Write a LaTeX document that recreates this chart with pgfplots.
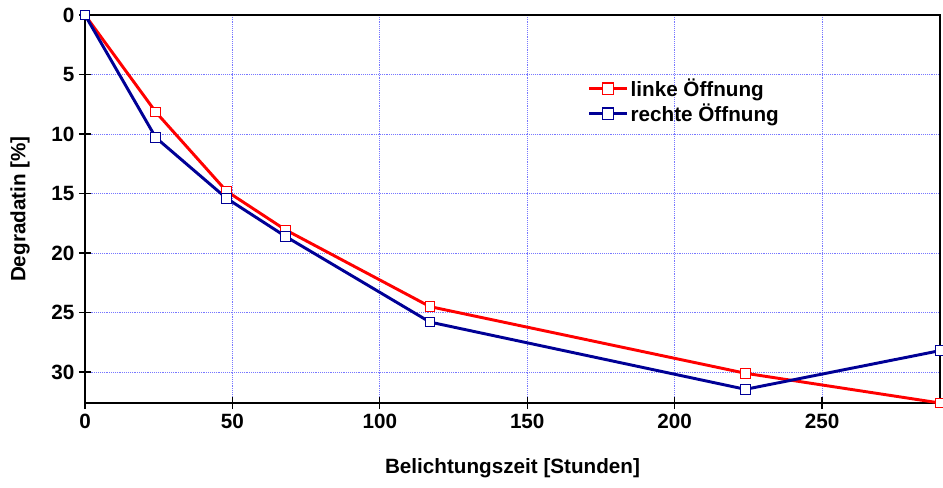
\documentclass[border=0pt]{standalone}
\usepackage{fontspec}
\setmainfont{Liberation Sans}
\usepackage{pgfplots}
\pgfplotsset{compat=1.18}
\definecolor{myred}{RGB}{255,0,0}
\definecolor{myblue}{RGB}{0,0,150}
\definecolor{gridblue}{RGB}{120,120,255}
\begin{document}
\begin{tikzpicture}
\begin{axis}[
  scale only axis,
  width=641.25pt, height=291pt,
  xmin=0, xmax=290, ymin=0, ymax=32.6,
  y dir=reverse,
  xtick={0,50,...,250}, ytick={0,5,...,30},
  grid=major,
  major grid style={gridblue, densely dotted, line width=0.6pt},
  axis line style={black, line width=0.9pt},
  tick style={black, line width=0.9pt},
  tick align=center,
  major tick length=9pt,
  xtick pos=bottom, ytick pos=left,
  /pgf/number format/assume math mode=true,
  tick label style={font=\fontsize{15.5}{18}\selectfont\bfseries},
  label style={font=\fontsize{15.5}{18}\selectfont\bfseries},
  xlabel={Belichtungszeit [Stunden]},
  ylabel={Degradatin [\%]},
  xlabel style={at={(axis description cs:0.5,0)}, anchor=center, yshift=-48.75pt},
  ylabel style={at={(axis description cs:0,0.5)}, anchor=center, yshift=48.75pt},
  legend style={draw=none, fill=none, at={(0.583,0.85)}, anchor=north west,
    font=\fontsize{15.5}{18}\selectfont\bfseries, row sep=0pt},
  legend cell align=left,
  legend image code/.code={%
    \draw[mark repeat=2,mark phase=2,mark size=4.2pt] plot coordinates {(0pt,0pt) (14pt,0pt) (28pt,0pt)};},
  clip=false,
]
\addplot[myred, line width=2.2pt, mark=square*, mark size=3.6pt,
  mark options={fill=white, draw=myred, line width=0.8pt}]
  coordinates {(0,0) (24,8.15) (48,14.8) (68,18.05) (117,24.5) (224,30.1) (290,32.6)};
\addlegendentry{linke Öffnung}
\addplot[myblue, line width=2.2pt, mark=square*, mark size=3.6pt,
  mark options={fill=white, draw=myblue, line width=0.8pt}]
  coordinates {(0,0) (24,10.3) (48,15.4) (68,18.6) (117,25.8) (224,31.45) (290,28.2)};
\addlegendentry{rechte Öffnung}
\end{axis}
\pgfresetboundingbox
\path ([shift={(-63.75pt,-63pt)}]current axis.south west) rectangle ([shift={(2.25pt,11.25pt)}]current axis.north east);
\end{tikzpicture}
\end{document}
